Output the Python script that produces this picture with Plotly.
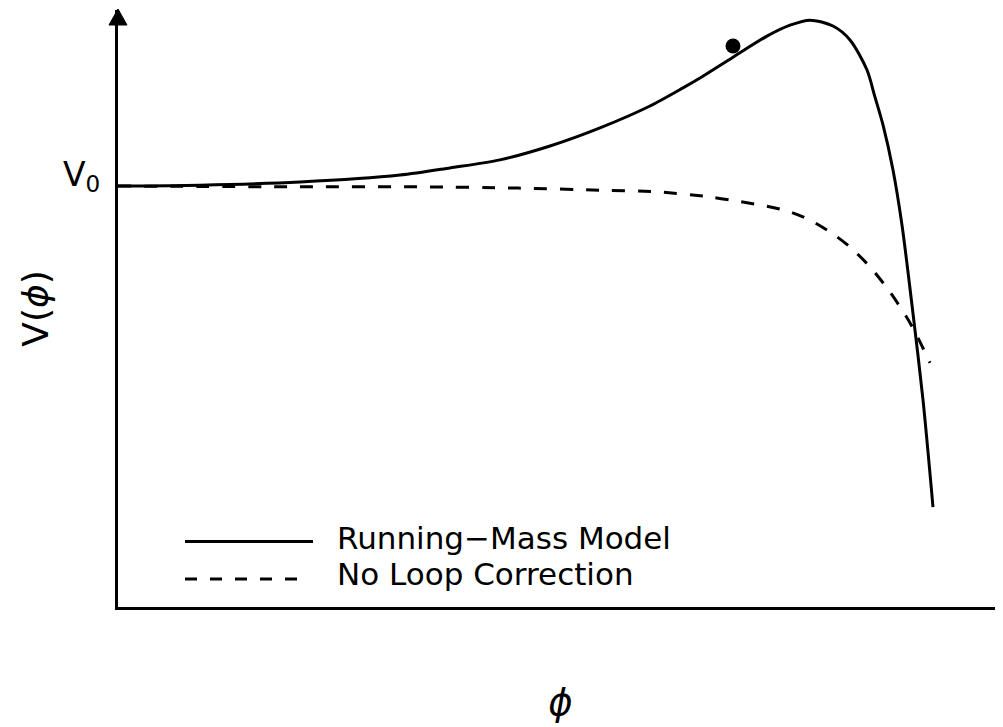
import plotly.graph_objects as go

# Data (phi in arbitrary units, V in units of V0)
phi_running = [0.00, 0.82, 1.82, 2.82, 3.32, 3.82, 4.32, 4.82, 5.32, 5.65, 5.82, 6.15, 6.49,
               6.72, 6.92, 7.15, 7.32, 7.49, 7.57, 7.65, 7.75, 7.84, 7.94, 8.05, 8.15]
v_running = [1.000, 1.002, 1.0095, 1.026, 1.043, 1.062, 1.095, 1.138, 1.190, 1.233, 1.2565,
             1.306, 1.356, 1.382, 1.394, 1.380, 1.347, 1.2755, 1.211, 1.145, 1.038, 0.907, 0.717,
             0.492, 0.2375]

phi_noloop = [0.00, 1.82, 3.00, 4.00, 4.82, 5.40, 5.92, 6.19, 6.42, 6.69, 6.92, 7.15, 7.32,
              7.52, 7.72, 7.89, 7.99, 8.12]
v_noloop = [1.000, 0.998, 0.998, 0.995, 0.990, 0.986, 0.974, 0.964, 0.955, 0.941, 0.919, 0.886,
            0.855, 0.808, 0.748, 0.687, 0.644, 0.580]

phi_dot = [6.15]
v_dot = [1.3325]

series_names = ["Running\u2212Mass Model", "No Loop Correction"]
ytick_vals = [1.0]
ytick_text = ["V<sub>0</sub>"]

# The page body adds an 8px margin, so the figure is 8px smaller than the window.
W, H = 995, 719
L, R, T, B = 110, 0, 2, 120
X_MAX = 8.85
Y_MAX = 597 / 421


def px(xr):
    # screen x (in window pixels) -> paper x
    return (xr - 118) / 885


def py(yr):
    # screen y (in window pixels) -> paper y
    return (607 - yr) / 597


fig = go.Figure()
fig.add_trace(go.Scatter(x=phi_running, y=v_running, mode="lines", name=series_names[0],
                         line=dict(color="black", width=3, shape="spline", smoothing=0.8),
                         showlegend=False))
fig.add_trace(go.Scatter(x=phi_noloop, y=v_noloop, mode="lines", name=series_names[1],
                         line=dict(color="black", width=3, dash="13px,13px", shape="spline",
                                   smoothing=0.8),
                         showlegend=False))
fig.add_trace(go.Scatter(x=phi_dot, y=v_dot, mode="markers",
                         marker=dict(color="black", size=15, line=dict(width=0)),
                         showlegend=False))

font = "DejaVu Sans"

annotations = []
for name, yr in zip(series_names, [538, 574]):
    annotations.append(dict(x=px(336), y=py(yr), xref="paper", yref="paper", xanchor="left",
                            yanchor="middle", text=name, showarrow=False, borderpad=0,
                            font=dict(family=font, size=31, color="black")))


def tri(pts):
    return "M " + " L ".join(f"{px(a):.5f},{py(b):.5f}" for a, b in pts) + " Z"


shapes = [
    # legend samples
    dict(type="line", xref="paper", yref="paper", x0=px(185), x1=px(313), y0=py(541.5),
         y1=py(541.5), line=dict(color="black", width=3)),
    dict(type="line", xref="paper", yref="paper", x0=px(185), x1=px(298), y0=py(579),
         y1=py(579), line=dict(color="black", width=3, dash="12px,13px")),
    # axis arrowheads
    dict(type="path", xref="paper", yref="paper", path=tri([(118, 9), (109, 25), (127, 25)]),
         fillcolor="black", line=dict(color="black", width=1), layer="above"),
    dict(type="path", xref="paper", yref="paper", path=tri([(1012, 607), (996, 598), (996, 616)]),
         fillcolor="black", line=dict(color="black", width=1), layer="above"),
]

fig.update_layout(
    width=W, height=H,
    margin=dict(l=L, r=R, t=T, b=B),
    paper_bgcolor="white", plot_bgcolor="white",
    font=dict(family=font, color="black"),
    annotations=annotations, shapes=shapes,
    xaxis=dict(range=[0, X_MAX], showgrid=False, zeroline=False, showline=True,
               linecolor="black", linewidth=3.2, mirror=False,
               showticklabels=False, ticks="",
               title=dict(text="<i>\u03d5</i>", font=dict(size=37), standoff=80)),
    yaxis=dict(range=[0, Y_MAX], showgrid=False, zeroline=False, showline=True,
               linecolor="black", linewidth=3.2, mirror=False,
               tickvals=ytick_vals, ticktext=ytick_text, ticks="",
               tickfont=dict(size=33), ticklabelstandoff=8, ticklabelshift=-12,
               title=dict(text="V(<i>\u03d5</i>)", font=dict(size=36), standoff=4)),
)

fig.write_html("out.html")
